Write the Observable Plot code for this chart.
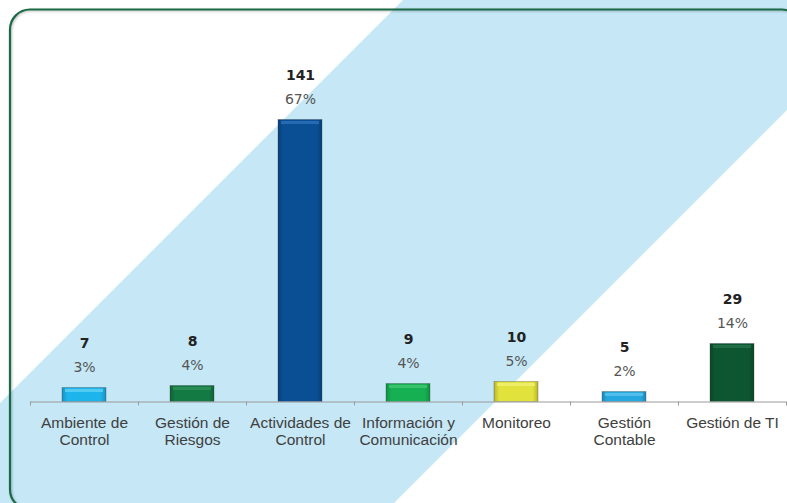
<!DOCTYPE html>
<html>
<head>
<meta charset="utf-8">
<script src="https://cdn.jsdelivr.net/npm/d3@7"></script>
<script src="https://cdn.jsdelivr.net/npm/@observablehq/plot@0.6"></script>
<style>
  html, body { margin: 0; padding: 0; background: #ffffff; }
  #wrap { position: relative; width: 787px; height: 503px; overflow: hidden; }
  #bg, #chart { position: absolute; left: 0; top: 0; }
</style>
</head>
<body>
<div id="wrap">
  <svg id="bg" width="787" height="503" xmlns="http://www.w3.org/2000/svg">
    <defs id="defs">
      <filter id="sh" x="-5%" y="-5%" width="110%" height="110%">
        <feDropShadow dx="1" dy="1" stdDeviation="1" flood-color="#000" flood-opacity="0.25"/>
      </filter>
    </defs>
    <polygon points="403,0 787,0 787,110 394,503 0,503 0,403" fill="#c5e7f6"/>
    <rect x="10" y="9.5" width="792" height="500" rx="20" ry="20" fill="none" stroke="#1d6a45" stroke-width="2.2" filter="url(#sh)"/>
  </svg>
  <div id="chart"></div>
</div>
<script>
const categories = ["Ambiente de\nControl", "Gestión de\nRiesgos", "Actividades de\nControl", "Información y\nComunicación", "Monitoreo", "Gestión\nContable", "Gestión de TI"];
const counts = [7, 8, 141, 9, 10, 5, 29];
const percents = ["3%", "4%", "67%", "4%", "5%", "2%", "14%"];
const barColors = ["#1cb4eb", "#147a43", "#0a4f93", "#16b052", "#e2e23c", "#27a7df", "#0e5631"];
const capColors = ["#5ccff4", "#2e8f58", "#2a6fb8", "#40c571", "#eeee70", "#5cc2ec", "#237048"];

// horizontal shading gradients for the bevelled bars
const defs = document.getElementById("defs");
const NS = "http://www.w3.org/2000/svg";
barColors.forEach((c, i) => {
  const g = document.createElementNS(NS, "linearGradient");
  g.setAttribute("id", "bar" + i);
  g.setAttribute("x1", "0"); g.setAttribute("x2", "1"); g.setAttribute("y1", "0"); g.setAttribute("y2", "0");
  const dark = d3.color(c).darker(0.6).formatHex();
  [[0, dark], [0.12, c], [0.88, c], [1, dark]].forEach(([o, col]) => {
    const s = document.createElementNS(NS, "stop");
    s.setAttribute("offset", o); s.setAttribute("stop-color", col);
    g.appendChild(s);
  });
  defs.appendChild(g);
  const g2 = document.createElementNS(NS, "linearGradient");
  g2.setAttribute("id", "cap" + i);
  g2.setAttribute("x1", "0"); g2.setAttribute("x2", "0"); g2.setAttribute("y1", "0"); g2.setAttribute("y2", "1");
  [[0, capColors[i]], [1, c]].forEach(([o, col]) => {
    const s = document.createElementNS(NS, "stop");
    s.setAttribute("offset", o); s.setAttribute("stop-color", col);
    g2.appendChild(s);
  });
  defs.appendChild(g2);
});

const data = categories.map((c, i) => ({
  cat: c, value: counts[i], pct: percents[i], fill: `url(#bar${i})`, cap: capColors[i]
}));
const lastCat = [categories[categories.length - 1]];

const chart = Plot.plot({
  width: 787,
  height: 503,
  marginLeft: 30,
  marginRight: 1,
  marginTop: 0,
  marginBottom: 0,
  style: { background: "transparent", overflow: "visible" },
  color: { type: "identity" },
  x: { domain: categories, paddingInner: 0.593, paddingOuter: 0.2965, axis: null },
  y: { domain: [0, 150], range: [401.5, 101.5], axis: null },
  marks: [
    Plot.barY(data, { x: "cat", y: "value", fill: "fill", stroke: "#333", strokeOpacity: 0.3, strokeWidth: 1 }),
    Plot.tickY(data, { x: "cat", y: "value", stroke: "cap", strokeWidth: 3, strokeOpacity: 0.85, dy: 2.5, insetLeft: 3, insetRight: 3 }),
    Plot.ruleY([0], { stroke: "#9a9a9a", strokeWidth: 1 }),
    Plot.ruleX(categories, { x: d => d, y1: 0, y2: -2, dx: -54, stroke: "#9a9a9a" }),
    Plot.ruleX(lastCat, { x: d => d, y1: 0, y2: -2, dx: 54, stroke: "#9a9a9a" }),
    Plot.text(data, { x: "cat", y: "value", text: d => String(d.value), dy: -40, lineAnchor: "bottom",
      fontFamily: "DejaVu Sans", fontWeight: "bold", fontSize: 14, fill: "#222" }),
    Plot.text(data, { x: "cat", y: "value", text: "pct", dy: -16, lineAnchor: "bottom",
      fontFamily: "DejaVu Sans", fontSize: 14, fill: "#555" }),
    Plot.text(data, { x: "cat", y: () => 0, text: "cat", dy: 14.5, lineAnchor: "top", lineHeight: 1.06,
      fontFamily: "Liberation Sans, Arial", fontSize: 15.5, fill: "#404040" })
  ]
});
document.getElementById("chart").appendChild(chart);
</script>
</body>
</html>
